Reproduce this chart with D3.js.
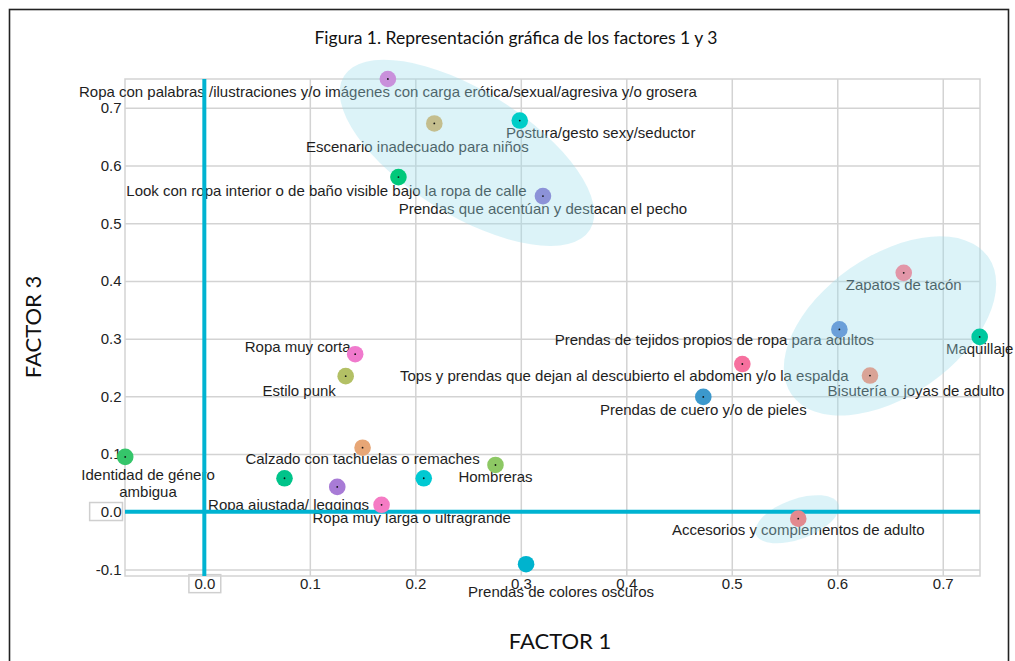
<!DOCTYPE html>
<html>
<head>
<meta charset="utf-8">
<script src="https://cdn.jsdelivr.net/npm/d3@7"></script>
<style>
  html, body { margin: 0; padding: 0; background: #fff; }
  svg { display: block; }
</style>
</head>
<body>
<svg id="chart" width="1015" height="661"></svg>
<script>
// ---------------- DATA ----------------
const items = [
  "Ropa con palabras /ilustraciones y/o imágenes con carga erótica/sexual/agresiva y/o grosera",
  "Escenario inadecuado para niños",
  "Postura/gesto sexy/seductor",
  "Look con ropa interior o de baño visible bajo la ropa de calle",
  "Prendas que acentúan y destacan el pecho",
  "Zapatos de tacón",
  "Prendas de tejidos propios de ropa para adultos",
  "Maquillaje",
  "Tops y prendas que dejan al descubierto el abdomen y/o la espalda",
  "Bisutería o joyas de adulto",
  "Prendas de cuero y/o de pieles",
  "Ropa muy corta",
  "Estilo punk",
  "Calzado con tachuelas o remaches",
  "Hombreras",
  "Identidad de género\nambigua",
  "",
  "",
  "Ropa muy larga o ultragrande",
  "Ropa ajustada/ leggings",
  "Accesorios y complementos de adulto",
  "Prendas de colores oscuros"
];
const factor1 = [0.174, 0.218, 0.299, 0.184, 0.321, 0.663, 0.602, 0.735, 0.510, 0.631, 0.473,
                 0.143, 0.134, 0.150, 0.276, -0.075, 0.076, 0.126, 0.208, 0.168, 0.563, 0.305];
const factor3 = [0.750, 0.673, 0.678, 0.580, 0.547, 0.414, 0.316, 0.303, 0.256, 0.236, 0.199,
                 0.273, 0.235, 0.111, 0.081, 0.095, 0.058, 0.043, 0.058, 0.012, -0.012, -0.091];
const xTicks = [0.0, 0.1, 0.2, 0.3, 0.4, 0.5, 0.6, 0.7];
const yTicks = [-0.1, 0.0, 0.1, 0.2, 0.3, 0.4, 0.5, 0.6, 0.7];
const titleText = "Figura 1. Representación gráfica de los factores 1 y 3";
const xTitle = "FACTOR 1";
const yTitle = "FACTOR 3";

// ---------------- STYLE / LAYOUT ----------------
const pointColors = ["#C990DB", "#C4BE8E", "#00CDC8", "#00C87A", "#8C92D8", "#E296A8", "#6B9FD9",
                     "#00C8A0", "#F6709E", "#D9A396", "#3C98CC", "#F07ACD", "#B3C065", "#E7A676",
                     "#8DC864", "#35C56A", "#00C48A", "#A87BD6", "#00C9D2", "#F57BC4", "#E2898F", "#00B3CE"];
// label offsets from the point (px): [dx, dy]
const labelOffsets = [[0, 18.4], [-17, 28.4], [81, 17.6], [-72, 18.7], [0, 18.3], [0, 17.3],
                      [-125, 15.7], [0, 17.3], [-118, 16.7], [46, 20.7], [0, 17.6], [-57.5, -2.3],
                      [-46.5, 20], [0, 16.6], [0, 16.7], [22.8, 22.6], [0, 0], [0, 0], [-12, 45],
                      [-93, 5], [0, 16.7], [35, 32.7]];
// highlight ellipses: centre in data units, radii in px, rotation deg
const ellipseCx = [0.249, 0.650, 0.562];
const ellipseCy = [0.622, 0.322, -0.013];
const ellipseRx = [145, 120, 44];
const ellipseRy = [62, 70, 20];
const ellipseRot = [32, -35, -20];

const plot = {left: 125, right: 980, top: 79, bottom: 576};
const xDomain = [-0.0752, 0.7353];
const yDomain = [-0.1114, 0.750];

const svg = d3.select("#chart");
const x = d3.scaleLinear().domain(xDomain).range([plot.left, plot.right]);
const y = d3.scaleLinear().domain(yDomain).range([plot.bottom, plot.top]);
const fmt = v => d3.format(".1f")(v).replace("\u2212", "-");

// outer figure border
svg.append("rect")
  .attr("x", 9.5).attr("y", 9.5).attr("width", 999).attr("height", 700)
  .attr("fill", "none").attr("stroke", "#222").attr("stroke-width", 1.6);

// title
svg.append("text")
  .attr("x", 516).attr("y", 44).attr("text-anchor", "middle")
  .style("font-family", "Lato, 'Open Sans', sans-serif").style("font-size", "17.5px")
  .style("fill", "#111").text(titleText);

const gridColor = "#d3d3d3";
const tickFont = "'Liberation Sans', Arial, sans-serif";

// x axis + vertical grid
const gx = svg.append("g").attr("transform", `translate(0,${plot.bottom})`)
  .call(d3.axisBottom(x).tickValues(xTicks).tickFormat(fmt)
        .tickSize(-(plot.bottom - plot.top)).tickPadding(2.5));
gx.select(".domain").remove();
gx.selectAll(".tick line").attr("stroke", gridColor).attr("stroke-width", 1.5);
gx.selectAll(".tick text").style("font-family", tickFont).style("font-size", "15px").style("fill", "#222");

// y axis + horizontal grid
const gy = svg.append("g").attr("transform", `translate(${plot.left},0)`)
  .call(d3.axisLeft(y).tickValues(yTicks).tickFormat(fmt)
        .tickSize(-(plot.right - plot.left)).tickPadding(3.5));
gy.select(".domain").remove();
gy.selectAll(".tick line").attr("stroke", gridColor).attr("stroke-width", 1.5);
gy.selectAll(".tick text").style("font-family", tickFont).style("font-size", "15px").style("fill", "#222");

// frame
svg.append("rect")
  .attr("x", plot.left).attr("y", plot.top)
  .attr("width", plot.right - plot.left).attr("height", plot.bottom - plot.top)
  .attr("fill", "none").attr("stroke", gridColor).attr("stroke-width", 1.5);
// boxes around the origin tick labels
[[gx, 5.5, 5.5], [gy, 11, 1]].forEach(([g, padL, padR]) => {
  g.selectAll(".tick").filter(d => Math.abs(d) < 1e-9).each(function() {
    const t = d3.select(this).select("text");
    const b = t.node().getBBox();
    d3.select(this).insert("rect", "text")
      .attr("x", b.x - padL).attr("y", b.y - 0.5)
      .attr("width", b.width + padL + padR).attr("height", b.height + 1)
      .attr("fill", "#fff").attr("stroke", "#cfcfcf").attr("stroke-width", 1.5);
  });
});

// point labels
const pts = items.map((name, i) => ({name, f1: factor1[i], f3: factor3[i], color: pointColors[i], off: labelOffsets[i]}));
const lab = svg.append("g")
  .style("font-family", tickFont).style("font-size", "15px").style("fill", "#1e1e1e");
pts.filter(p => p.name).forEach(p => {
  const t = lab.append("text").attr("text-anchor", "middle");
  p.name.split("\n").forEach((line, k) => {
    t.append("tspan")
      .attr("x", x(p.f1) + p.off[0])
      .attr("y", y(p.f3) + p.off[1] + k * 17.4)
      .text(line);
  });
});

// ellipses (translucent, over the labels)
svg.append("g").selectAll("ellipse")
  .data(ellipseCx.map((cx, i) => ({cx, cy: ellipseCy[i], rx: ellipseRx[i], ry: ellipseRy[i], rot: ellipseRot[i]})))
  .join("ellipse")
  .attr("transform", d => `translate(${x(d.cx)},${y(d.cy)}) rotate(${d.rot})`)
  .attr("rx", d => d.rx).attr("ry", d => d.ry)
  .attr("fill", "#9EDDEB").attr("fill-opacity", 0.36);

// reference lines at 0
const refColor = "#00B3D1";
svg.append("line")
  .attr("x1", x(0)).attr("x2", x(0)).attr("y1", plot.top).attr("y2", plot.bottom)
  .attr("stroke", refColor).attr("stroke-width", 4);
svg.append("line")
  .attr("x1", plot.left).attr("x2", plot.right).attr("y1", y(0)).attr("y2", y(0))
  .attr("stroke", refColor).attr("stroke-width", 4);

// points
const gp = svg.append("g");
gp.selectAll("circle.pt").data(pts).join("circle").attr("class", "pt")
  .attr("cx", d => x(d.f1)).attr("cy", d => y(d.f3)).attr("r", 8.3)
  .attr("fill", d => d.color);
gp.selectAll("circle.dot").data(pts.slice(0, pts.length - 1)).join("circle").attr("class", "dot")
  .attr("cx", d => x(d.f1)).attr("cy", d => y(d.f3)).attr("r", 0.9)
  .attr("fill", "#111");

// axis titles
svg.append("text")
  .attr("x", 560).attr("y", 649).attr("text-anchor", "middle")
  .style("font-family", "Lato, 'Open Sans', sans-serif").style("font-size", "22px")
  .style("fill", "#111").text(xTitle);
svg.append("text")
  .attr("transform", "translate(41,327) rotate(-90)").attr("text-anchor", "middle")
  .style("font-family", "Lato, 'Open Sans', sans-serif").style("font-size", "22px")
  .style("fill", "#111").text(yTitle);
</script>
</body>
</html>
